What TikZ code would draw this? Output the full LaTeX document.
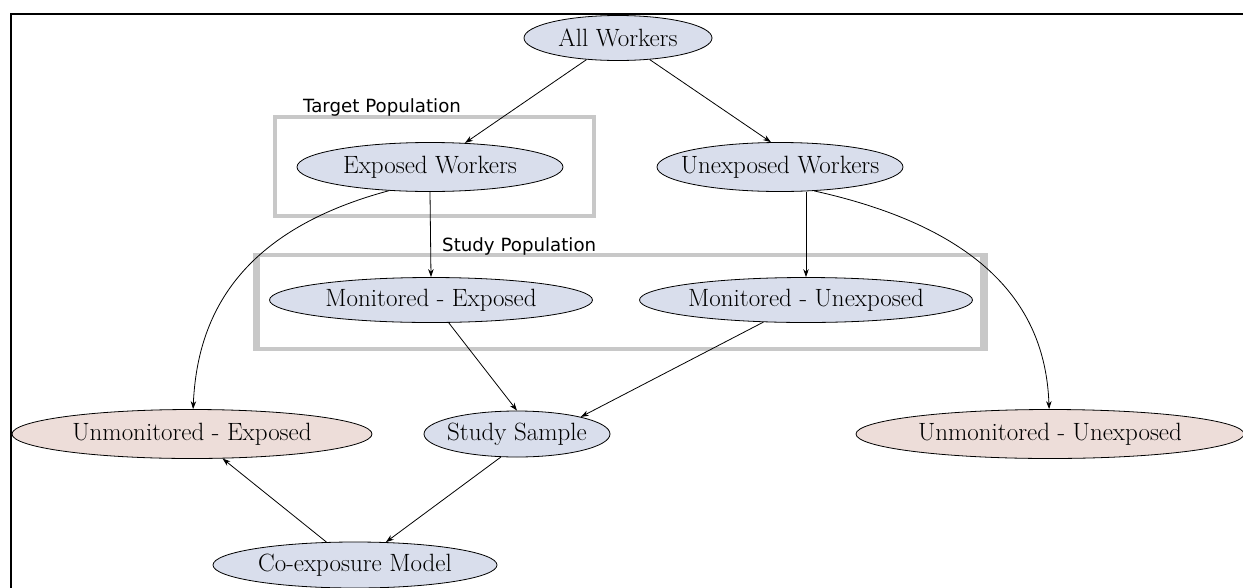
\documentclass[tikz,border=0pt]{standalone}
\usepackage{fontspec}
\newfontfamily\labfont{DejaVu Sans}
\usetikzlibrary{shapes.geometric,arrows.meta}
\definecolor{bluefill}{HTML}{D9DEEC}
\definecolor{pinkfill}{HTML}{EDDDD9}
\definecolor{boxgrey}{HTML}{C8C8C8}
\begin{document}
\begin{tikzpicture}[x=1pt,y=-1pt,
  wnode/.style={ellipse,draw=black,line width=0.8pt,inner xsep=-40pt,inner ysep=0pt,minimum height=47pt,
    font=\fontsize{25}{30}\selectfont},
  bnode/.style={wnode,fill=bluefill},
  pnode/.style={wnode,fill=pinkfill},
  conn/.style={-{Stealth[length=8pt,width=5.5pt]},line width=0.8pt},
  grp/.style={draw=boxgrey,line width=4pt},
  glabel/.style={font=\labfont\fontsize{18.2}{21}\selectfont,anchor=base west,inner sep=0pt}]
\useasboundingbox[fill=white] (0,0) rectangle (1243,587);
% frame
\draw[line width=2pt] (11,588) -- (11,13.5) -- (1244,13.5);
% group boxes
\draw[grp] (275,117) rectangle (594,216);
\node[glabel] (tplab) at (303,112) {Target Population};
\draw[grp] (256,255) rectangle (984,349);
\fill[boxgrey] (253,253) rectangle (260,351);
\fill[boxgrey] (980,253) rectangle (988,351);
\node[glabel] (splab) at (442,251) {Study Population};
% nodes
\node[bnode,minimum width=188pt,minimum height=45pt] (aw) at (618,38) {All Workers};
\node[bnode,minimum width=266pt,minimum height=49pt] (ew) at (430,167) {Exposed Workers};
\node[bnode,minimum width=246pt,minimum height=49pt] (uw) at (780,167) {Unexposed Workers};
\node[bnode,minimum width=323pt,minimum height=45pt] (me) at (431,300) {Monitored - Exposed};
\node[bnode,minimum width=333pt,minimum height=45pt] (mu) at (806,300) {Monitored - Unexposed};
\node[pnode,minimum width=360pt,minimum height=49pt] (ue) at (192,434) {Unmonitored - Exposed};
\node[bnode,minimum width=186pt,minimum height=46pt] (ss) at (517,434) {Study Sample};
\node[pnode,minimum width=388pt,minimum height=49pt] (uu) at (1050,434) {Unmonitored - Unexposed};
\node[bnode,minimum width=284pt,minimum height=46pt] (cm) at (355,565) {Co-exposure Model};
% connectors
\draw[conn] (aw) -- (ew);
\draw[conn] (aw) -- (uw.110);
\draw[conn] (ew.south) -- (me.north);
\draw[conn] (uw.south -| mu.north) -- (mu.north);
\draw[conn] (ew.-150) .. controls (235,232) and (197,320) .. (ue);
\draw[conn] (uw.-35) .. controls (1000,232) and (1046,320) .. (uu);
\draw[conn] (me) -- (ss.north);
\draw[conn] (mu) -- (ss.15);
\draw[conn] (ss.-125) -- (cm);
\draw[conn] (cm) -- (ue);
\end{tikzpicture}
\end{document}
